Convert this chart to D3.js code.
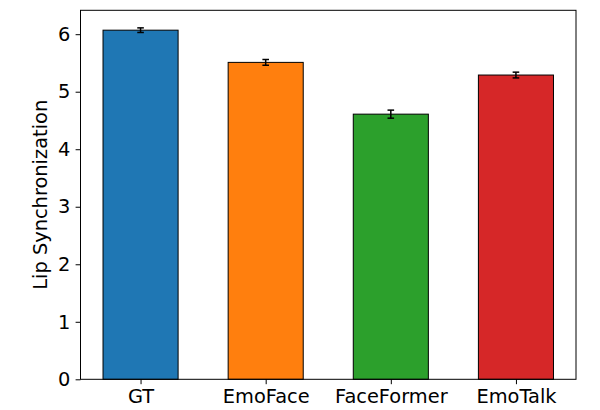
<!DOCTYPE html>
<html>
<head>
<meta charset="utf-8">
<script src="https://cdn.jsdelivr.net/npm/d3@7"></script>
<style>
	body { margin: 0; background: #fff; }
	text { font-family: "DejaVu Sans", sans-serif; fill: #000; }
</style>
</head>
<body>
<div id="chart-area"></div>
<script>
// Data
let methods = ["GT", "EmoFace", "FaceFormer", "EmoTalk"];
let scores = [6.07, 5.51, 4.61, 5.29];
let errors = [0.04, 0.05, 0.07, 0.05];
let colors = ["#1f77b4", "#ff7f0e", "#2ca02c", "#d62728"];
let yTicks = [0, 1, 2, 3, 4, 5, 6];

let data = methods.map((m, i) => ({method: m, score: scores[i], err: errors[i], color: colors[i]}));

drawChart(data);

function drawChart(data){
	let margin = {top: 10.3, right: 24, bottom: 30.7, left: 80.5},
		width = 600 - margin.left - margin.right,
		height = 410 - margin.top - margin.bottom;
	let fontSize = "19.4px";

	let svg = d3.select("#chart-area").append("svg")
		.attr("width", 600)
		.attr("height", 410)
		.append("g")
		.attr("transform", "translate(" + margin.left + "," + margin.top + ")");

	// x: bar positions -0.48 .. n-0.52 like matplotlib margins
	let n = data.length;
	let x = d3.scaleLinear()
		.domain([-0.48, n - 1 + 0.48])
		.range([0, width]);
	let barW = x(0.6) - x(0);

	let yMax = d3.max(data, d => d.score + d.err) * 1.05;
	let y = d3.scaleLinear()
		.domain([0, yMax])
		.range([height, 0]);

	// Bars
	svg.selectAll("rect.bar")
		.data(data)
		.enter()
		.append("rect")
		.attr("class", "bar")
		.attr("x", (d, i) => x(i) - barW / 2)
		.attr("y", d => y(d.score))
		.attr("width", barW)
		.attr("height", d => height - y(d.score))
		.attr("fill", d => d.color)
		.attr("stroke", "#000")
		.attr("stroke-width", 1);

	// Error bars
	let eb = svg.selectAll("g.err")
		.data(data)
		.enter()
		.append("g")
		.attr("class", "err")
		.attr("stroke", "#000")
		.attr("stroke-width", 1.5);
	eb.append("line")
		.attr("x1", (d, i) => x(i)).attr("x2", (d, i) => x(i))
		.attr("y1", d => y(d.score - d.err)).attr("y2", d => y(d.score + d.err));
	eb.append("line")
		.attr("x1", (d, i) => x(i) - 3.3).attr("x2", (d, i) => x(i) + 3.3)
		.attr("y1", d => y(d.score + d.err)).attr("y2", d => y(d.score + d.err));
	eb.append("line")
		.attr("x1", (d, i) => x(i) - 3.3).attr("x2", (d, i) => x(i) + 3.3)
		.attr("y1", d => y(d.score - d.err)).attr("y2", d => y(d.score - d.err));

	// Axes
	let xAxis = d3.axisBottom(x)
		.tickValues(d3.range(n))
		.tickFormat(i => methods[i])
		.tickSize(4.9)
		.tickPadding(5.3);
	let yAxis = d3.axisLeft(y)
		.tickValues(yTicks)
		.tickFormat(d3.format("d"))
		.tickSize(4.9)
		.tickPadding(5.3);

	let gx = svg.append("g")
		.attr("transform", "translate(0," + height + ")")
		.call(xAxis);
	let gy = svg.append("g").call(yAxis);

	[gx, gy].forEach(g => {
		g.select(".domain").remove();
		g.selectAll(".tick line").attr("stroke", "#000").attr("stroke-width", 1);
		g.selectAll(".tick text")
			.style("font-family", "'DejaVu Sans', sans-serif")
			.style("font-size", fontSize)
			.attr("fill", "#000");
	});

	// Frame
	svg.append("rect")
		.attr("x", 0).attr("y", 0)
		.attr("width", width).attr("height", height)
		.attr("fill", "none")
		.attr("stroke", "#000")
		.attr("stroke-width", 1);

	// Y label
	svg.append("text")
		.attr("transform", "rotate(-90)")
		.attr("x", -height / 2)
		.attr("y", 47 - margin.left)
		.attr("text-anchor", "middle")
		.style("font-size", fontSize)
		.text("Lip Synchronization");
}
</script>
</body>
</html>
